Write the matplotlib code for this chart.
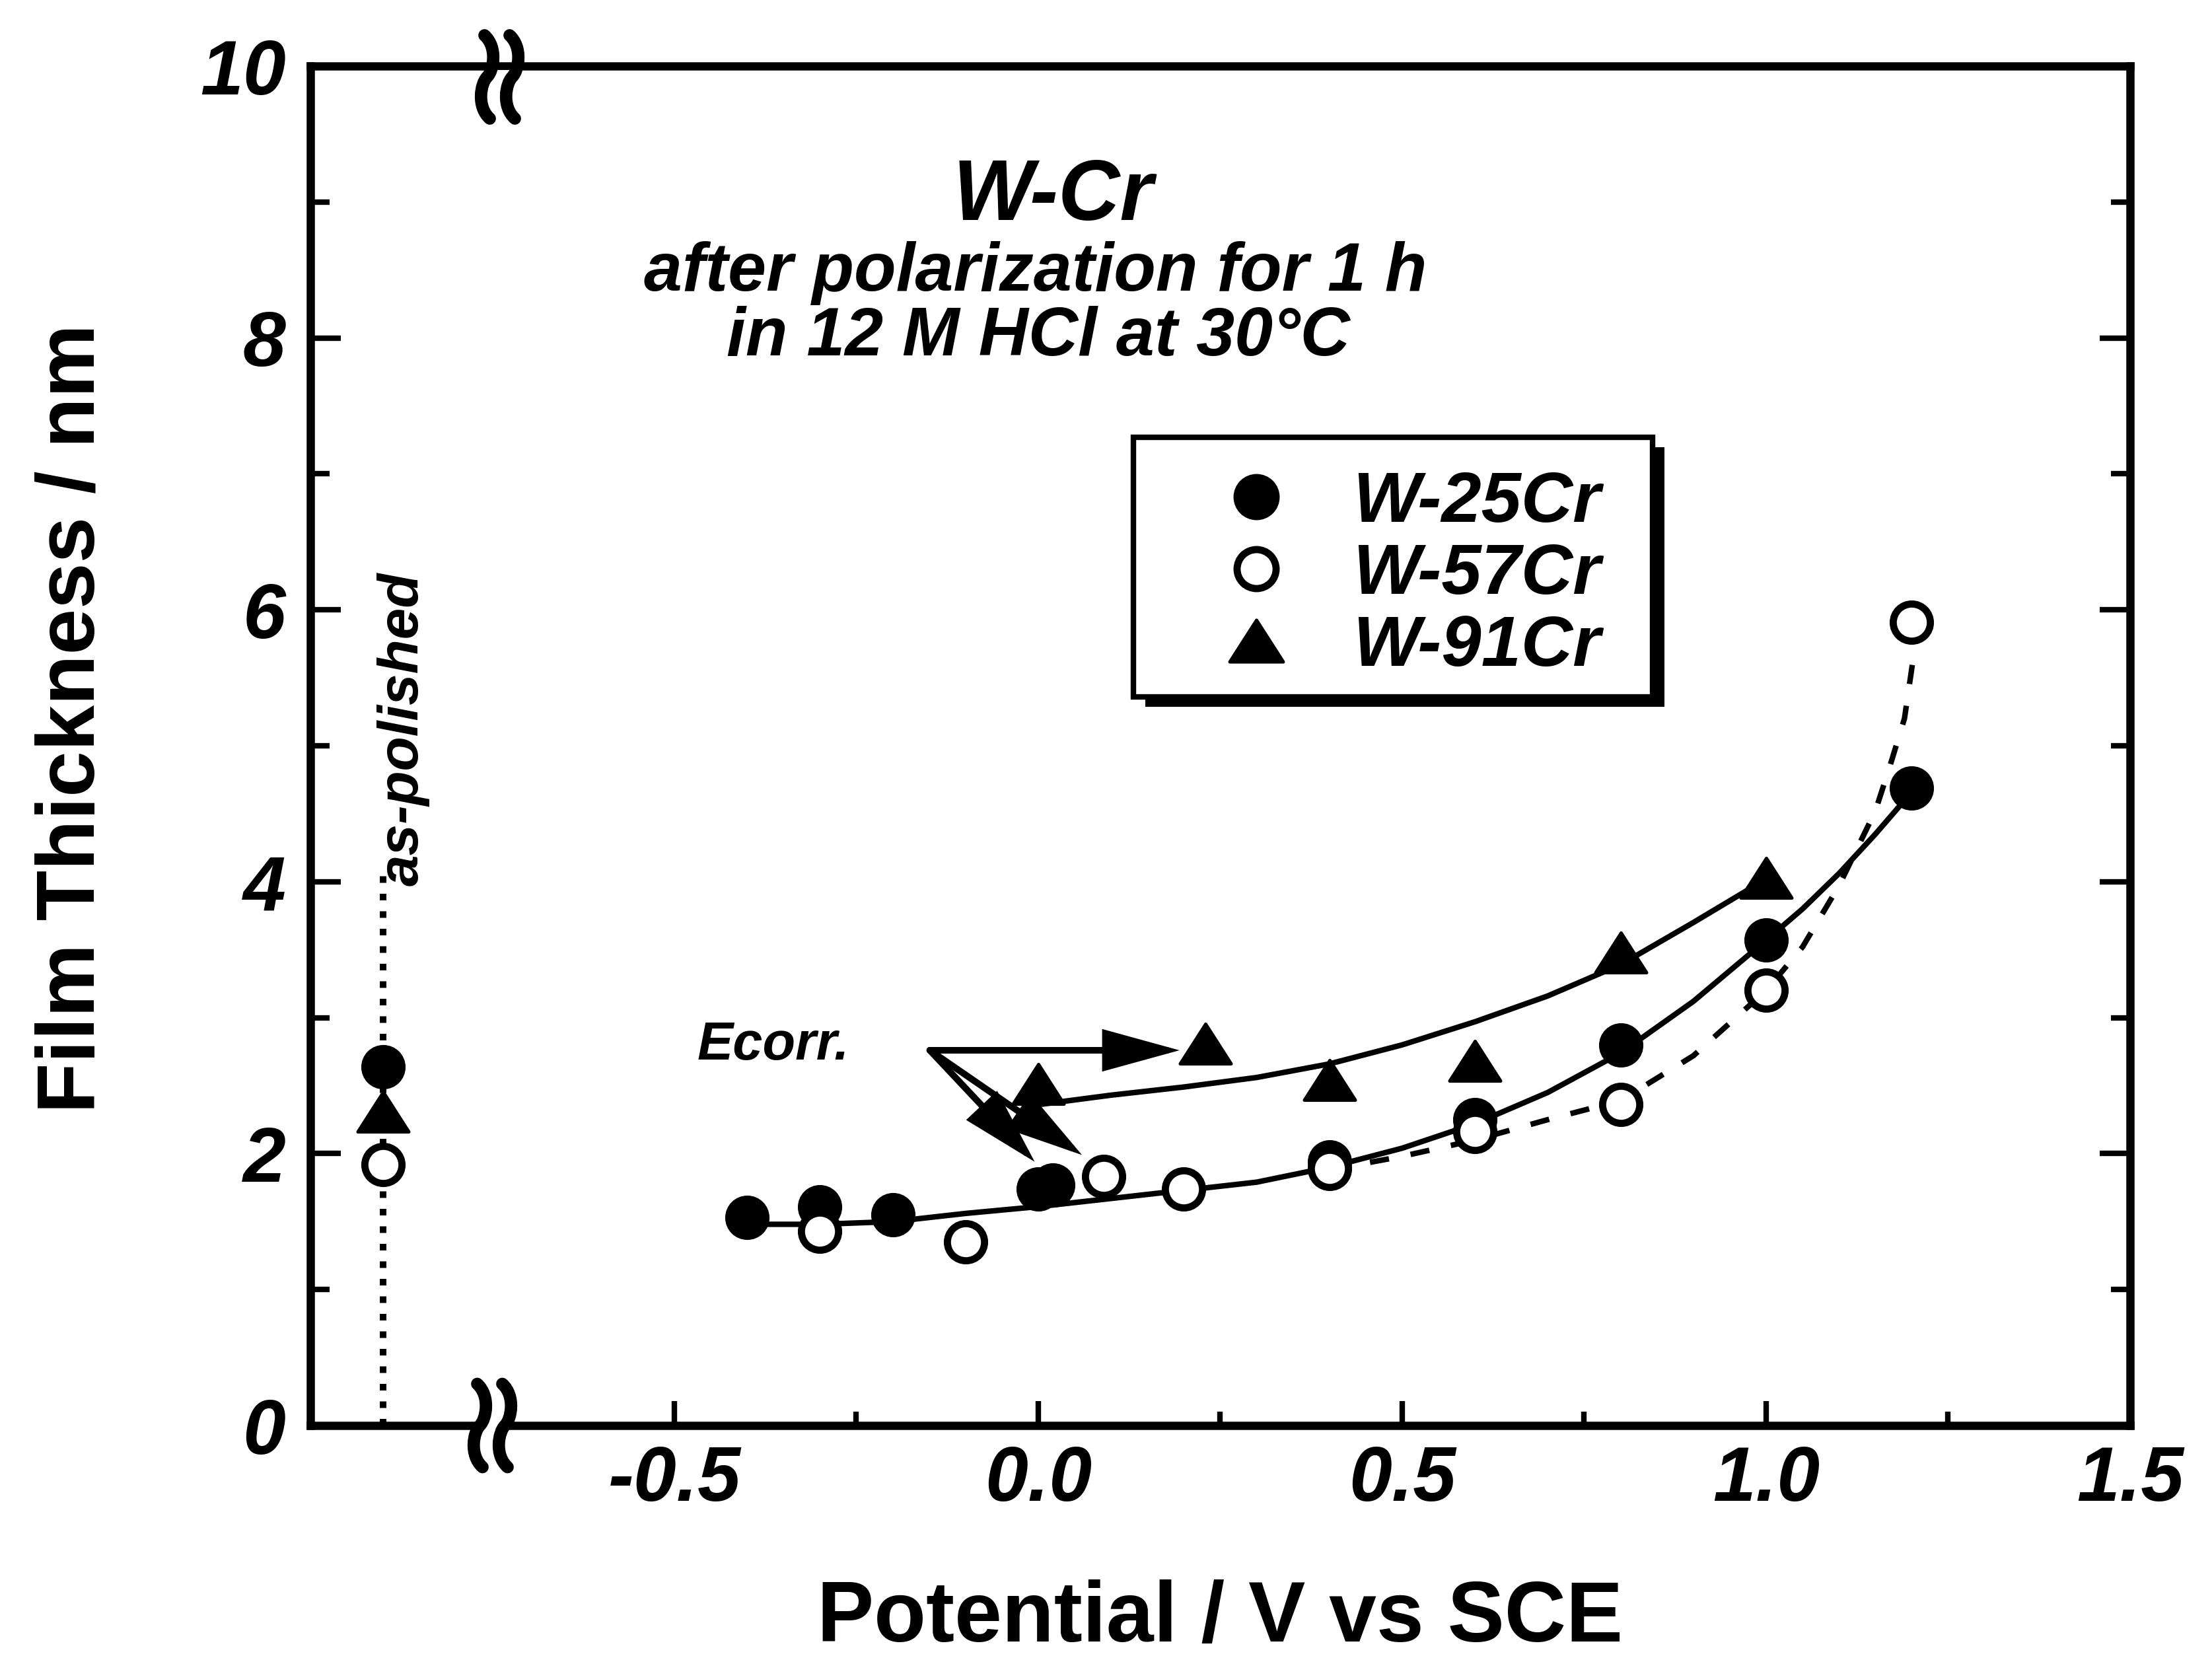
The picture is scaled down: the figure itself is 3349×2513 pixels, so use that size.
import matplotlib
matplotlib.use("Agg")
import matplotlib.pyplot as plt
import matplotlib.transforms as mtransforms
from matplotlib.path import Path
from matplotlib.patches import Rectangle, PathPatch

# ---------------- data: oxide film thickness (nm) vs potential (V vs SCE) ----------------
w25_x = [-0.40, -0.30, -0.20, 0.00, 0.02, 0.40, 0.60, 0.80, 1.00, 1.20]
w25_y = [1.53, 1.61, 1.55, 1.74, 1.77, 1.94, 2.25, 2.80, 3.57, 4.69]

w57_x = [-0.30, -0.10, 0.09, 0.20, 0.40, 0.60, 0.80, 1.00, 1.20]
w57_y = [1.43, 1.35, 1.83, 1.74, 1.89, 2.16, 2.36, 3.20, 5.91]

w91_x = [0.00, 0.23, 0.40, 0.60, 0.80, 1.00]
w91_y = [2.51, 2.81, 2.54, 2.68, 3.48, 4.03]

# as-polished specimens, shown left of the axis break
polished_x = -0.90
polished_w25 = 2.64
polished_w57 = 1.92
polished_w91 = 2.31
polished_guide_top = 4.05

# trend curves through each alloy's data
fit25_x = [-0.40, -0.30, -0.20, -0.10, 0.00, 0.10, 0.20, 0.30, 0.40, 0.50, 0.60,
           0.70, 0.80, 0.90, 1.00, 1.05, 1.10, 1.15, 1.20]
fit25_y = [1.48, 1.48, 1.50, 1.56, 1.61, 1.67, 1.73, 1.79, 1.90, 2.04, 2.22,
           2.45, 2.74, 3.12, 3.57, 3.80, 4.06, 4.35, 4.66]

fit57_x = [0.40, 0.50, 0.60, 0.70, 0.80, 0.90, 1.00, 1.05, 1.10, 1.15, 1.17, 1.19, 1.205]
fit57_y = [1.88, 1.98, 2.10, 2.25, 2.39, 2.72, 3.20, 3.52, 3.97, 4.52, 4.85, 5.20, 5.75]

fit91_x = [0.00, 0.10, 0.20, 0.30, 0.40, 0.50, 0.60, 0.70, 0.80, 0.90, 1.00]
fit91_y = [2.36, 2.43, 2.49, 2.56, 2.66, 2.80, 2.97, 3.16, 3.39, 3.70, 4.02]

# corrosion-potential arrows
ecorr_origin = (-0.149, 2.76)
ecorr_tip_x = [0.194, 0.060, -0.005]
ecorr_tip_y = [2.76, 1.99, 1.94]

# axes
x_limits = (-1.0, 1.5)
y_limits = (0.0, 10.0)
x_major = [-0.5, 0.0, 0.5, 1.0, 1.5]
x_major_labels = ["-0.5", "0.0", "0.5", "1.0", "1.5"]
x_minor = [-0.25, 0.25, 0.75, 1.25]
y_major = [0, 2, 4, 6, 8, 10]
y_major_labels = ["0", "2", "4", "6", "8", "10"]
y_minor = [1, 3, 5, 7, 9]
x_break = -0.75

legend_labels = ["W-25Cr", "W-57Cr", "W-91Cr"]

# ---------------- figure ----------------
plt.rcParams["font.family"] = ["Liberation Sans", "DejaVu Sans"]
plt.rcParams["font.weight"] = "bold"

W, H, DPI = 3349, 2513, 300
fig = plt.figure(figsize=(W / DPI, H / DPI), dpi=DPI)
ax = fig.add_axes([470 / W, (H - 2158) / H, 2755 / W, 2058 / H])

ax.set_xlim(*x_limits)
ax.set_ylim(*y_limits)

for s in ax.spines.values():
    s.set_linewidth(3.0)

ax.set_xticks(x_major)
ax.set_xticklabels(x_major_labels)
ax.set_xticks(x_minor, minor=True)
ax.set_yticks(y_major)
ax.set_yticklabels(y_major_labels)
ax.set_yticks(y_minor, minor=True)

tick_font = dict(family="Liberation Sans", weight="bold", style="italic", size=28)
for lab in ax.get_xticklabels() + ax.get_yticklabels():
    lab.set_fontproperties(matplotlib.font_manager.FontProperties(**tick_font))

ax.tick_params(axis="both", which="both", direction="in", width=2.0, right=True, top=False)
ax.tick_params(axis="y", which="major", length=11, pad=9)
ax.tick_params(axis="y", which="minor", length=7)
ax.tick_params(axis="x", which="major", length=9, pad=7)
ax.tick_params(axis="x", which="minor", length=5)

# triangle marker slightly wider than tall
tri = Path([(-1, -0.78), (1, -0.78), (0, 0.78), (-1, -0.78)],
           [Path.MOVETO, Path.LINETO, Path.LINETO, Path.CLOSEPOLY])

# trend curves
ax.plot(fit25_x, fit25_y, color="black", lw=2.0, zorder=2, solid_capstyle="round")
ax.plot(fit91_x, fit91_y, color="black", lw=2.0, zorder=2, solid_capstyle="round")
ax.plot(fit57_x, fit57_y, color="black", lw=2.0, ls=(0, (3.5, 4.0)), zorder=2)

# as-polished guide line
ax.plot([polished_x, polished_x], [y_limits[0], polished_guide_top], color="black",
        lw=2.4, ls=(0, (1, 1.65)), zorder=2)

# data markers
circ_style = dict(ls="none", marker="o", ms=13.5, mew=2.6, mec="black")
h25, = ax.plot(w25_x + [polished_x], w25_y + [polished_w25], mfc="black", zorder=3, **circ_style)
h57, = ax.plot(w57_x + [polished_x], w57_y + [polished_w57], mfc="white", zorder=4, **circ_style)
h91, = ax.plot(w91_x + [polished_x], w91_y + [polished_w91], ls="none", marker=tri, ms=18.5,
               mew=1.2, mfc="black", mec="black", zorder=5)

# Ecorr arrows
for tx, ty in zip(ecorr_tip_x, ecorr_tip_y):
    ax.annotate("", xy=(tx, ty), xytext=ecorr_origin,
                arrowprops=dict(arrowstyle="-|>,head_length=0.4,head_width=0.11",
                                mutation_scale=56, lw=2.4, color="black",
                                shrinkA=0, shrinkB=0, joinstyle="miter"),
                zorder=6)

bi = dict(family="Liberation Sans", weight="bold", style="italic")
ax.text(-0.469, 2.69, "Ecorr.", fontsize=19.5, ha="left", va="baseline", **bi)

# annotation text
ax.text(0.02, 8.87, "W-Cr", fontsize=31, ha="center", va="baseline", **bi)
ax.text(-0.004, 8.35, "after polarization for 1 h", fontsize=25, ha="center", va="baseline", **bi)
ax.text(0.0, 7.87, "in 12 M HCl at 30°C", fontsize=25, ha="center", va="baseline", **bi)
ax.text(-0.872, 3.97, "as-polished", fontsize=20.5, rotation=90, ha="center", va="bottom", **bi)

# axis labels
ax.set_xlabel("Potential / V vs SCE", fontsize=31, fontweight="bold")
ax.xaxis.set_label_coords(0.5, -0.159)
ax.xaxis.label.set_va("baseline")
ax.set_ylabel("Film Thickness / nm", fontsize=30, fontweight="bold")
ax.yaxis.set_label_coords(-0.1187, 0.52)
ax.yaxis.label.set_va("baseline")

# legend box with drop shadow
lx0, ly0, lw_, lh_ = 0.4523, 0.536, 0.2853, 0.1909
ax.add_patch(Rectangle((lx0 + 0.0065, ly0 - 0.0073), lw_, lh_, transform=ax.transAxes,
                       facecolor="black", edgecolor="black", lw=0, zorder=7, clip_on=False))
ax.add_patch(Rectangle((lx0, ly0), lw_, lh_, transform=ax.transAxes,
                       facecolor="white", edgecolor="black", lw=2.0, zorder=7.5, clip_on=False))
leg = ax.legend([h25, h57, h91], legend_labels, loc="upper left",
                bbox_to_anchor=(0.4882, 0.7025), frameon=False, borderpad=0,
                borderaxespad=0, handlelength=1.6, handletextpad=0.55, labelspacing=0.08,
                numpoints=1, markerscale=1.05,
                prop=dict(family="Liberation Sans", weight="bold", style="italic", size=26))
leg.set_zorder(8)


# axis-break marks on the bottom and top spines
def axis_break(xd, ya):
    base = mtransforms.blended_transform_factory(ax.transData, ax.transAxes)
    trans = fig.dpi_scale_trans + mtransforms.ScaledTranslation(xd, ya, base)
    px = 1.0 / DPI
    sep = 38 * px
    ax.add_patch(Rectangle((-sep / 2, -10 * px), sep, 20 * px, transform=trans,
                           facecolor="white", edgecolor="none", clip_on=False, zorder=10))
    verts = [(-4, 63), (16, 45), (10, 10), (0, 0), (-10, -10), (-16, -45), (4, -63)]
    codes = [Path.MOVETO] + [Path.CURVE4] * 6
    for dx in (-sep / 2, sep / 2):
        v = [(dx + a * px, b * px) for a, b in verts]
        ax.add_patch(PathPatch(Path(v, codes), transform=trans, fill=False, lw=4.5,
                               edgecolor="black", capstyle="round", clip_on=False, zorder=11))


axis_break(x_break, 0.0)
# the upper mark sits a little below the top spine
axis_break(x_break + 0.01, 0.992)

fig.savefig("out.png", dpi=DPI, facecolor="white")
